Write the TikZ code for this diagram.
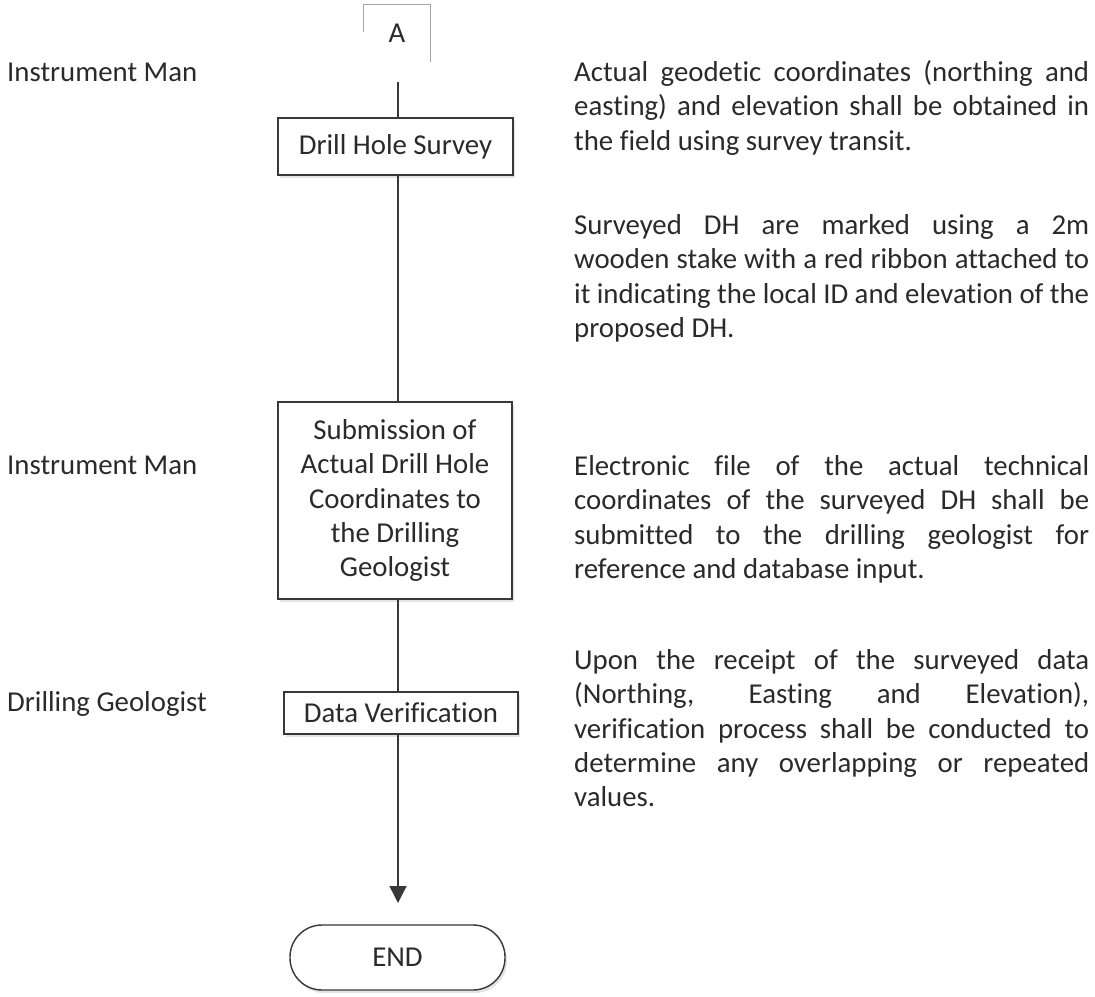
\documentclass[tikz,border=0pt]{standalone}
\usepackage{fontspec}
\setmainfont{Carlito}[Ligatures=NoCommon]
\usetikzlibrary{arrows.meta,shadows,calc}
\definecolor{ink}{HTML}{2A2A2A}
\definecolor{lineink}{HTML}{383838}
\newcommand{\jline}[1]{\makebox[515pt][s]{#1}}
\tikzset{
  txt/.style={font=\fontsize{28.8}{34.3}\selectfont, text=ink, inner sep=0pt},
  para/.style={txt, anchor=base west, align=left},
  procbox/.style={txt, draw=lineink, line width=1.4pt, fill=white, align=center,
    drop shadow={shadow xshift=2pt, shadow yshift=-3pt, opacity=0.22, fill=gray}},
  endbox/.style={txt, draw=lineink, line width=1.4pt, fill=white, rounded corners=32pt,
    drop shadow={shadow xshift=2pt, shadow yshift=-3pt, opacity=0.22, fill=gray}},
  flow/.style={draw=lineink, line width=1.4pt},
}
\begin{document}
\begin{tikzpicture}[x=1pt, y=-1pt]
\useasboundingbox (0,0) rectangle (1095,996);
% connector box A
\node[txt, minimum width=66pt, minimum height=57pt] (A) at (397,33.5) {A};
\draw[gray!70, line width=0.8pt] ($(A.north west)+(0,27)$) -- (A.north west) -- (A.north east) -- (A.south east);
\coordinate (a1) at (398,82);
% process boxes
\node[procbox, minimum width=235pt, minimum height=57pt] (s1) at (395.5,146.5) {Drill Hole Survey};
\node[procbox, minimum width=234pt, minimum height=197pt] (s2) at (395,500.5) {Submission of\\Actual Drill Hole\\Coordinates to\\the Drilling\\Geologist};
\node[procbox, minimum width=234pt, minimum height=42pt] (s3) at (401,713) {Data Verification};
\node[endbox, minimum width=215pt, minimum height=65pt] (e) at (397.5,957.5) {END};
\coordinate (tip) at (398,903);
% connectors
\draw[flow] (a1) -- (s1.north -| a1);
\draw[flow] (s1.south -| a1) -- (s2.north -| a1);
\draw[flow] (s2.south -| a1) -- (s3.north -| a1);
\draw[flow, -{Triangle[width=17pt,length=17pt]}] (s3.south -| a1) -- (tip);
% role labels
\node[para] (r1) at (7,81.5) {Instrument Man};
\node[para] (r2) at (7,474.5) {Instrument Man};
\node[para] (r3) at (7,711.5) {Drilling Geologist};
% descriptions (anchored at the baseline of their last line)
\node[para] (p1) at (574,150.1) {\jline{Actual geodetic coordinates (northing and}\\
\jline{easting) and elevation shall be obtained in}\\
the field using survey transit.};
\node[para] (p2) at (574,337.4) {\jline{Surveyed DH are marked using a 2m}\\
\jline{wooden stake with a red ribbon attached to}\\
\jline{it indicating the local ID and elevation of the}\\
proposed DH.};
\node[para] (p3) at (574,578.4) {\jline{Electronic file of the actual technical}\\
\jline{coordinates of the surveyed DH shall be}\\
\jline{submitted to the drilling geologist for}\\
reference and database input.};
\node[para] (p4) at (574,806.7) {\jline{Upon the receipt of the surveyed data}\\
\jline{(Northing, Easting and Elevation),}\\
\jline{verification process shall be conducted to}\\
\jline{determine any overlapping or repeated}\\
values.};
\end{tikzpicture}
\end{document}
